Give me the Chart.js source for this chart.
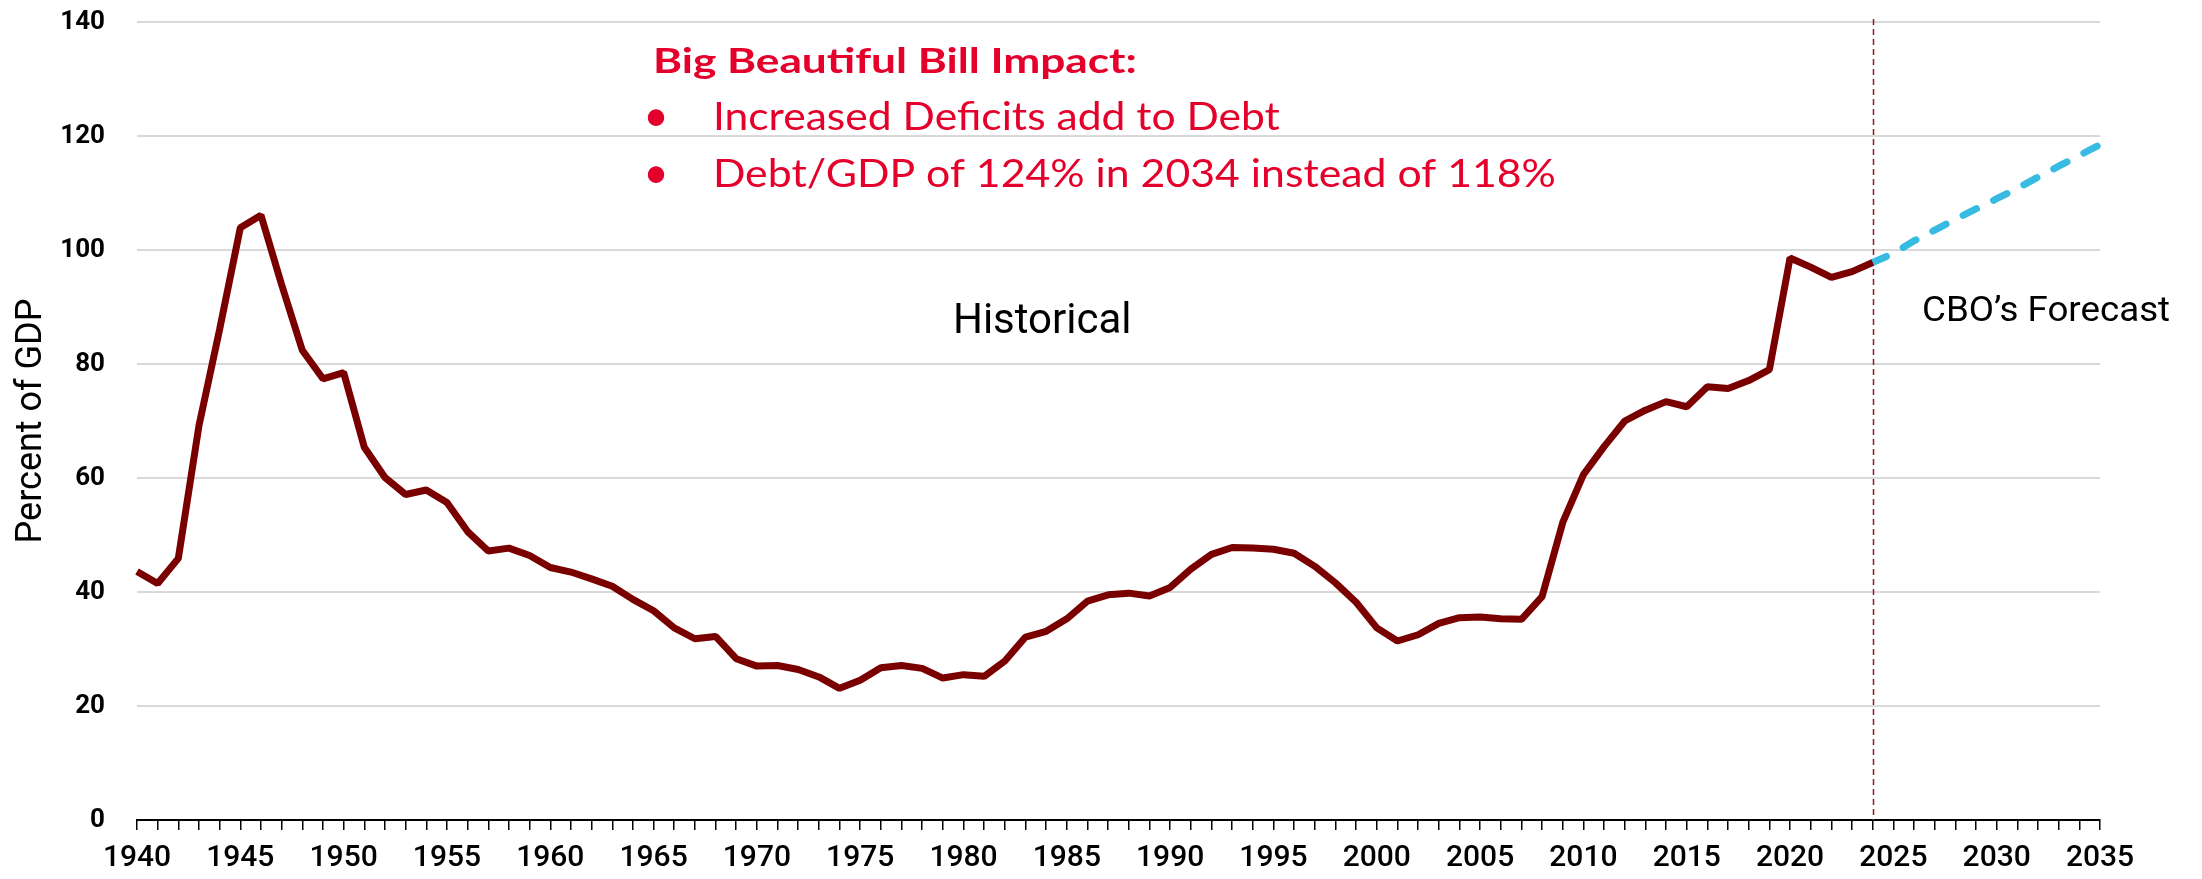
<!DOCTYPE html>
<html><head><meta charset="utf-8">
<script src="https://cdn.jsdelivr.net/npm/chart.js@4.4.1/dist/chart.umd.min.js"></script>
<style>html,body{margin:0;padding:0;background:#fff;overflow:hidden}canvas{display:block}</style>
</head><body>
<canvas id="c" width="2202" height="879"></canvas>
<script>
// ---- data ----
const years = [1940,1941,1942,1943,1944,1945,1946,1947,1948,1949,
  1950,1951,1952,1953,1954,1955,1956,1957,1958,1959,
  1960,1961,1962,1963,1964,1965,1966,1967,1968,1969,
  1970,1971,1972,1973,1974,1975,1976,1977,1978,1979,
  1980,1981,1982,1983,1984,1985,1986,1987,1988,1989,
  1990,1991,1992,1993,1994,1995,1996,1997,1998,1999,
  2000,2001,2002,2003,2004,2005,2006,2007,2008,2009,
  2010,2011,2012,2013,2014,2015,2016,2017,2018,2019,
  2020,2021,2022,2023,2024,2025,2026,2027,2028,2029,
  2030,2031,2032,2033,2034,2035];
// Historical debt held by the public, % of GDP (1940-2024)
const historical = [43.6,41.5,45.9,69.2,86.1,103.9,106.1,93.9,82.4,77.4,
  78.5,65.4,60.1,57.1,57.9,55.7,50.6,47.2,47.7,46.4,
  44.3,43.5,42.3,41.0,38.7,36.7,33.7,31.8,32.2,28.3,
  27.0,27.1,26.4,25.1,23.1,24.5,26.7,27.1,26.6,24.9,
  25.5,25.2,27.9,32.1,33.1,35.3,38.4,39.5,39.8,39.3,
  40.8,44.0,46.6,47.8,47.7,47.5,46.8,44.5,41.6,38.2,
  33.7,31.4,32.5,34.5,35.5,35.6,35.3,35.2,39.2,52.2,
  60.6,65.5,70.0,71.9,73.4,72.5,76.0,75.7,77.1,79.0,
  98.6,97.0,95.2,96.2,97.8];
// CBO forecast (2024-2035)
const forecastYears = [2024,2025,2026,2027,2028,2029,2030,2031,2032,2033,2034,2035];
const forecast = [97.8,99.4,101.6,103.5,105.4,107.2,109.0,110.8,112.8,114.7,116.6,118.5];
const yTickValues = [0,20,40,60,80,100,120,140];
const labelEvery = 5;
const dividerYear = 2024;
const annotationTitle = 'Big Beautiful Bill Impact:';
const annotationBullets = ['Increased Deficits add to Debt', 'Debt/GDP of 124% in 2034 instead of 118%'];
const historicalLabel = 'Historical';
const forecastLabel = 'CBO\u2019s Forecast';
const yAxisTitle = 'Percent of GDP';

// ---- datasets built from arrays ----
const histData = years.map((y, i) => i < historical.length ? historical[i] : null);
const fcData = years.map(y => { const k = forecastYears.indexOf(y); return k >= 0 ? forecast[k] : null; });

const RED = '#E4002B';

function fitText(ctx, text, x, y, width) {
  const w = ctx.measureText(text).width;
  const s = width ? width / w : 1;
  ctx.save(); ctx.translate(x, y); ctx.scale(s, 1);
  ctx.textAlign = 'left'; ctx.fillText(text, 0, 0); ctx.restore();
}

const overlay = {
  id: 'overlay',
  beforeDatasetsDraw(chart) {
    const {ctx, chartArea, scales: {x}} = chart;
    const px = Math.round(x.getPixelForValue(years.indexOf(dividerYear))) + 0.5;
    ctx.save();
    ctx.strokeStyle = '#8E1A1A'; ctx.lineWidth = 1.5; ctx.setLineDash([6, 4]);
    ctx.beginPath(); ctx.moveTo(px, chartArea.top - 3); ctx.lineTo(px, chartArea.bottom); ctx.stroke();
    ctx.restore();
  },
  afterDraw(chart) {
    const {ctx, scales: {x, y}} = chart;
    ctx.save();
    ctx.textBaseline = 'alphabetic';
    // annotation block
    ctx.fillStyle = RED;
    ctx.font = '700 33.5px Lato';
    fitText(ctx, annotationTitle, x.getPixelForValue(24.97), y.getPixelForValue(131.0), 484);
    const baseVals = [121.0, 111.1];
    const widths = [567, 843];
    annotationBullets.forEach((t, i) => {
      const by = y.getPixelForValue(baseVals[i]);
      ctx.font = '400 44px Lato';
      ctx.textAlign = 'center';
      ctx.fillText('\u2022', x.getPixelForValue(25.12), by + 1);
      ctx.font = '400 39px Lato';
      fitText(ctx, t, x.getPixelForValue(27.87), by, widths[i]);
    });
    // region labels
    ctx.fillStyle = '#000';
    ctx.font = '400 42px Roboto';
    ctx.textAlign = 'center';
    ctx.fillText(historicalLabel, x.getPixelForValue(43.81), y.getPixelForValue(85.4));
    ctx.font = '400 35px Roboto';
    fitText(ctx, forecastLabel, x.getPixelForValue(86.39), y.getPixelForValue(87.6), 248);
    ctx.restore();
  }
};

new Chart(document.getElementById('c'), {
  type: 'line',
  data: {
    labels: years,
    datasets: [
      { label: 'Historical', data: histData, borderColor: '#7A0000', borderWidth: 7,
        pointRadius: 0, tension: 0, borderJoinStyle: 'bevel', spanGaps: false },
      { label: 'CBO Forecast', data: fcData, borderColor: '#38BBE2', borderWidth: 7,
        pointRadius: 0, tension: 0, borderDash: [15, 19], borderCapStyle: 'round', spanGaps: false }
    ]
  },
  options: {
    responsive: false, animation: false, devicePixelRatio: 1,
    layout: { padding: { top: 22, right: 102, left: 0, bottom: 0 } },
    plugins: { legend: { display: false }, tooltip: { enabled: false } },
    scales: {
      x: {
        type: 'category', offset: false,
        grid: { drawOnChartArea: false, drawTicks: true, tickLength: 10, color: '#000', lineWidth: 1.5, offset: false },
        border: { display: true, color: '#000', width: 2 },
        ticks: {
          autoSkip: false, maxRotation: 0, minRotation: 0, padding: 10, color: '#000',
          font: { family: 'Roboto', size: 30, weight: '500' },
          callback: function(v, i) { const yr = years[i]; return yr % labelEvery === 0 ? String(yr) : ''; }
        },
        afterFit: s => { s.height = 59; }
      },
      y: {
        min: 0, max: 140,
        afterBuildTicks: s => { s.ticks = yTickValues.map(v => ({ value: v })); },
        grid: { color: c => c.tick && c.tick.value === 0 ? 'rgba(0,0,0,0)' : '#D9D9D9', lineWidth: 2,
                drawTicks: true, tickLength: 32, tickColor: 'rgba(0,0,0,0)' },
        border: { display: false },
        ticks: { padding: 0, color: '#000', font: { family: 'Roboto', size: 26, weight: '700' } },
        title: { display: true, text: yAxisTitle, color: '#000', font: { family: 'Roboto', size: 36, weight: '400' }, padding: { top: 10, bottom: 0 } },
        afterFit: s => { s.width = 137; }
      }
    }
  },
  plugins: [overlay]
});
</script>
</body></html>
